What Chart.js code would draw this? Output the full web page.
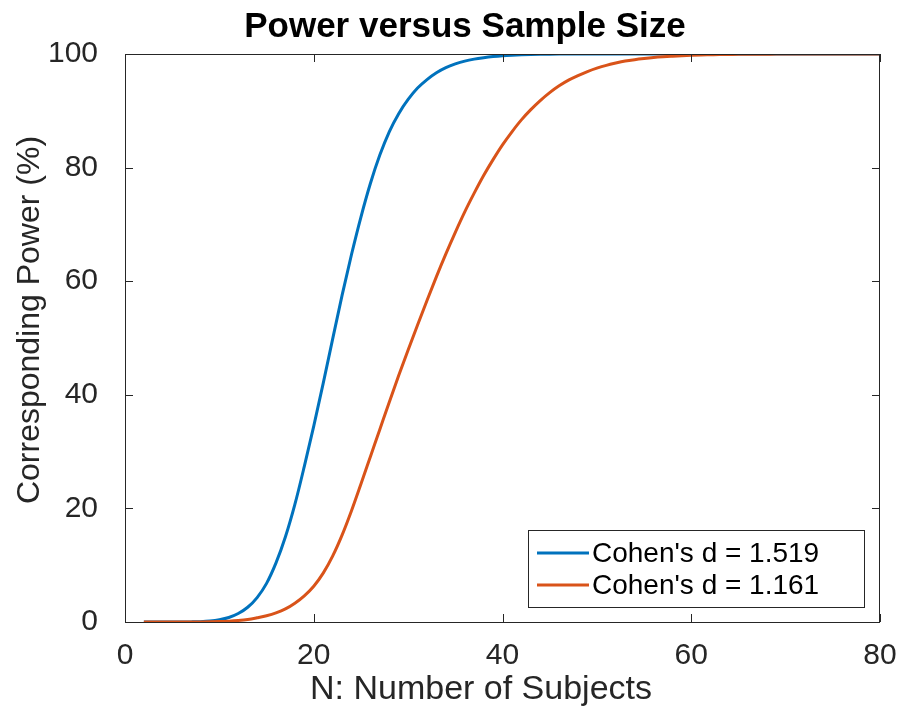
<!DOCTYPE html>
<html>
<head>
<meta charset="utf-8">
<script src="https://cdn.jsdelivr.net/npm/chart.js@4"></script>
<style>
  html, body { margin: 0; padding: 0; background: #fff; }
  #wrap { width: 897px; height: 713px; }
</style>
</head>
<body>
<div id="wrap"><canvas id="potencia"></canvas></div>
<script>
(function(){
  const sujetos = [2,3,4,5,6,7,8,9,10,11,12,13,14,15,16,17,18,19,20,21,22,23,24,25,26,27,28,29,30,31,32,33,34,35,36,37,38,39,40,41,
    42,43,44,45,46,47,48,49,50,51,52,53,54,55,56,57,58,59,60,61,62,63,64,65,66,67,68,69,70,71,72,73,74,75,76,77,78,79,80];

  const poder_1519 = [0,0,0,0,0.005,0.02,0.06,0.17,0.4,0.8,1.5,2.6,4.3,6.8,10.4,15,20.7,27.4,34.5,42,
    49.8,57.5,64.7,71.3,77.2,82.2,86.3,89.5,92,94,95.5,96.7,97.6,98.25,98.75,99.1,99.35,99.55,99.7,99.8,
    99.87,99.92,99.95,99.97,99.98,99.99,100,100,100,100,100,100,100,100,100,100,100,100,100,100,
    100,100,100,100,100,100,100,100,100,100,100,100,100,100,100,100,100,100,100];

  const poder_1161 = [0,0,0,0,0,0.01,0.02,0.04,0.08,0.15,0.27,0.45,0.75,1.1,1.6,2.3,3.3,4.6,6.3,8.6,
    11.6,15.3,19.6,24.3,29.1,33.9,38.7,43.4,47.9,52.3,56.6,60.8,64.8,68.6,72.2,75.5,78.6,81.4,84,86.3,
    88.4,90.2,91.8,93.2,94.4,95.4,96.2,96.9,97.5,98,98.4,98.75,99,99.2,99.37,99.5,99.6,99.69,99.76,99.82,
    99.86,99.9,99.92,99.94,99.95,99.96,99.97,99.98,99.98,99.99,100,100,100,100,100,100,100,100,100];

  const etiquetas = ["Cohen's d = 1.519", "Cohen's d = 1.161"];
  const colores = ['#0072BD', '#D95319'];
  const ticks_x = [0, 20, 40, 60, 80];
  const ticks_y = [0, 20, 40, 60, 80, 100];

  const fuente = '"Liberation Sans", Arial, Helvetica, sans-serif';
  const gris = '#262626';

  // marco estilo matlab: caja, ticks hacia dentro, titulo, etiquetas y leyenda
  const marco = {
    id: 'marco',
    afterDatasetsDraw(chart){
      const c = chart.ctx;
      const a = chart.chartArea;
      const sx = chart.scales.x, sy = chart.scales.y;
      c.save();
      c.strokeStyle = gris;
      c.lineWidth = 1;
      c.strokeRect(a.left + 0.5, a.top + 0.5, a.right - a.left - 1, a.bottom - a.top);
      c.beginPath();
      ticks_x.forEach(v => {
        const px = Math.round(sx.getPixelForValue(v)) + 0.5;
        c.moveTo(px, a.bottom); c.lineTo(px, a.bottom - 8);
        c.moveTo(px, a.top); c.lineTo(px, a.top + 8);
      });
      ticks_y.forEach(v => {
        const py = Math.round(sy.getPixelForValue(v)) + 0.5;
        c.moveTo(a.left, py); c.lineTo(a.left + 8, py);
        c.moveTo(a.right, py); c.lineTo(a.right - 8, py);
      });
      c.stroke();

      // titulo
      c.fillStyle = '#000';
      c.font = 'bold 35px ' + fuente;
      c.textAlign = 'center';
      c.textBaseline = 'alphabetic';
      c.fillText('Power versus Sample Size', 465, 37);

      // etiquetas de ejes
      c.fillStyle = gris;
      c.font = '34px ' + fuente;
      c.fillText('N: Number of Subjects', 481, 699);
      c.save();
      c.translate(39, 320);
      c.rotate(-Math.PI / 2);
      c.font = '32px ' + fuente;
      c.fillText('Corresponding Power (%)', 0, 0);
      c.restore();

      // leyenda
      c.fillStyle = '#fff';
      c.fillRect(528, 530, 336, 77);
      c.strokeStyle = gris;
      c.strokeRect(528.5, 530.5, 336, 77);
      c.font = '28px ' + fuente;
      c.textAlign = 'left';
      c.textBaseline = 'middle';
      chart.data.datasets.forEach((ds, i) => {
        const y = 553 + i * 32;
        c.strokeStyle = ds.borderColor;
        c.lineWidth = 3;
        c.beginPath();
        c.moveTo(537, y); c.lineTo(589, y);
        c.stroke();
        c.fillStyle = '#000';
        c.fillText(ds.label, 592, y + 1);
      });
      c.restore();
    }
  };

  const ctx = document.getElementById('potencia');

  new Chart(ctx, {
    type: 'line',
    data: {
      labels: sujetos,
      datasets: [{
        label: etiquetas[0],
        data: sujetos.map((n, i) => ({ x: n, y: poder_1519[i] })),
        borderColor: colores[0],
        borderWidth: 3,
        pointRadius: 0,
        cubicInterpolationMode: 'monotone',
        order: 1
      }, {
        label: etiquetas[1],
        data: sujetos.map((n, i) => ({ x: n, y: poder_1161[i] })),
        borderColor: colores[1],
        borderWidth: 3,
        pointRadius: 0,
        cubicInterpolationMode: 'monotone',
        order: 0
      }]
    },
    options: {
      responsive: true,
      maintainAspectRatio: false,
      animation: false,
      devicePixelRatio: 1,
      layout: { padding: { left: 0, top: 54, right: 17, bottom: 0 } },
      plugins: {
        legend: { display: false },
        title: { display: false },
        tooltip: { enabled: false }
      },
      scales: {
        x: {
          type: 'linear',
          min: 0, max: 80,
          afterFit: s => { s.height = 91; s.paddingRight = 0; s.paddingLeft = 0; },
          afterBuildTicks: s => { s.ticks = ticks_x.map(v => ({ value: v })); },
          grid: { display: false },
          border: { display: false },
          ticks: { color: gris, padding: 8, maxRotation: 0, font: { family: fuente, size: 30 } }
        },
        y: {
          min: 0, max: 100,
          afterFit: s => { s.width = 125; s.paddingTop = 0; s.paddingBottom = 0; },
          afterBuildTicks: s => { s.ticks = ticks_y.map(v => ({ value: v })); },
          grid: { display: false },
          border: { display: false },
          ticks: { color: gris, padding: 19, font: { family: fuente, size: 30 } }
        }
      }
    },
    plugins: [marco]
  });
})();
</script>
</body>
</html>
